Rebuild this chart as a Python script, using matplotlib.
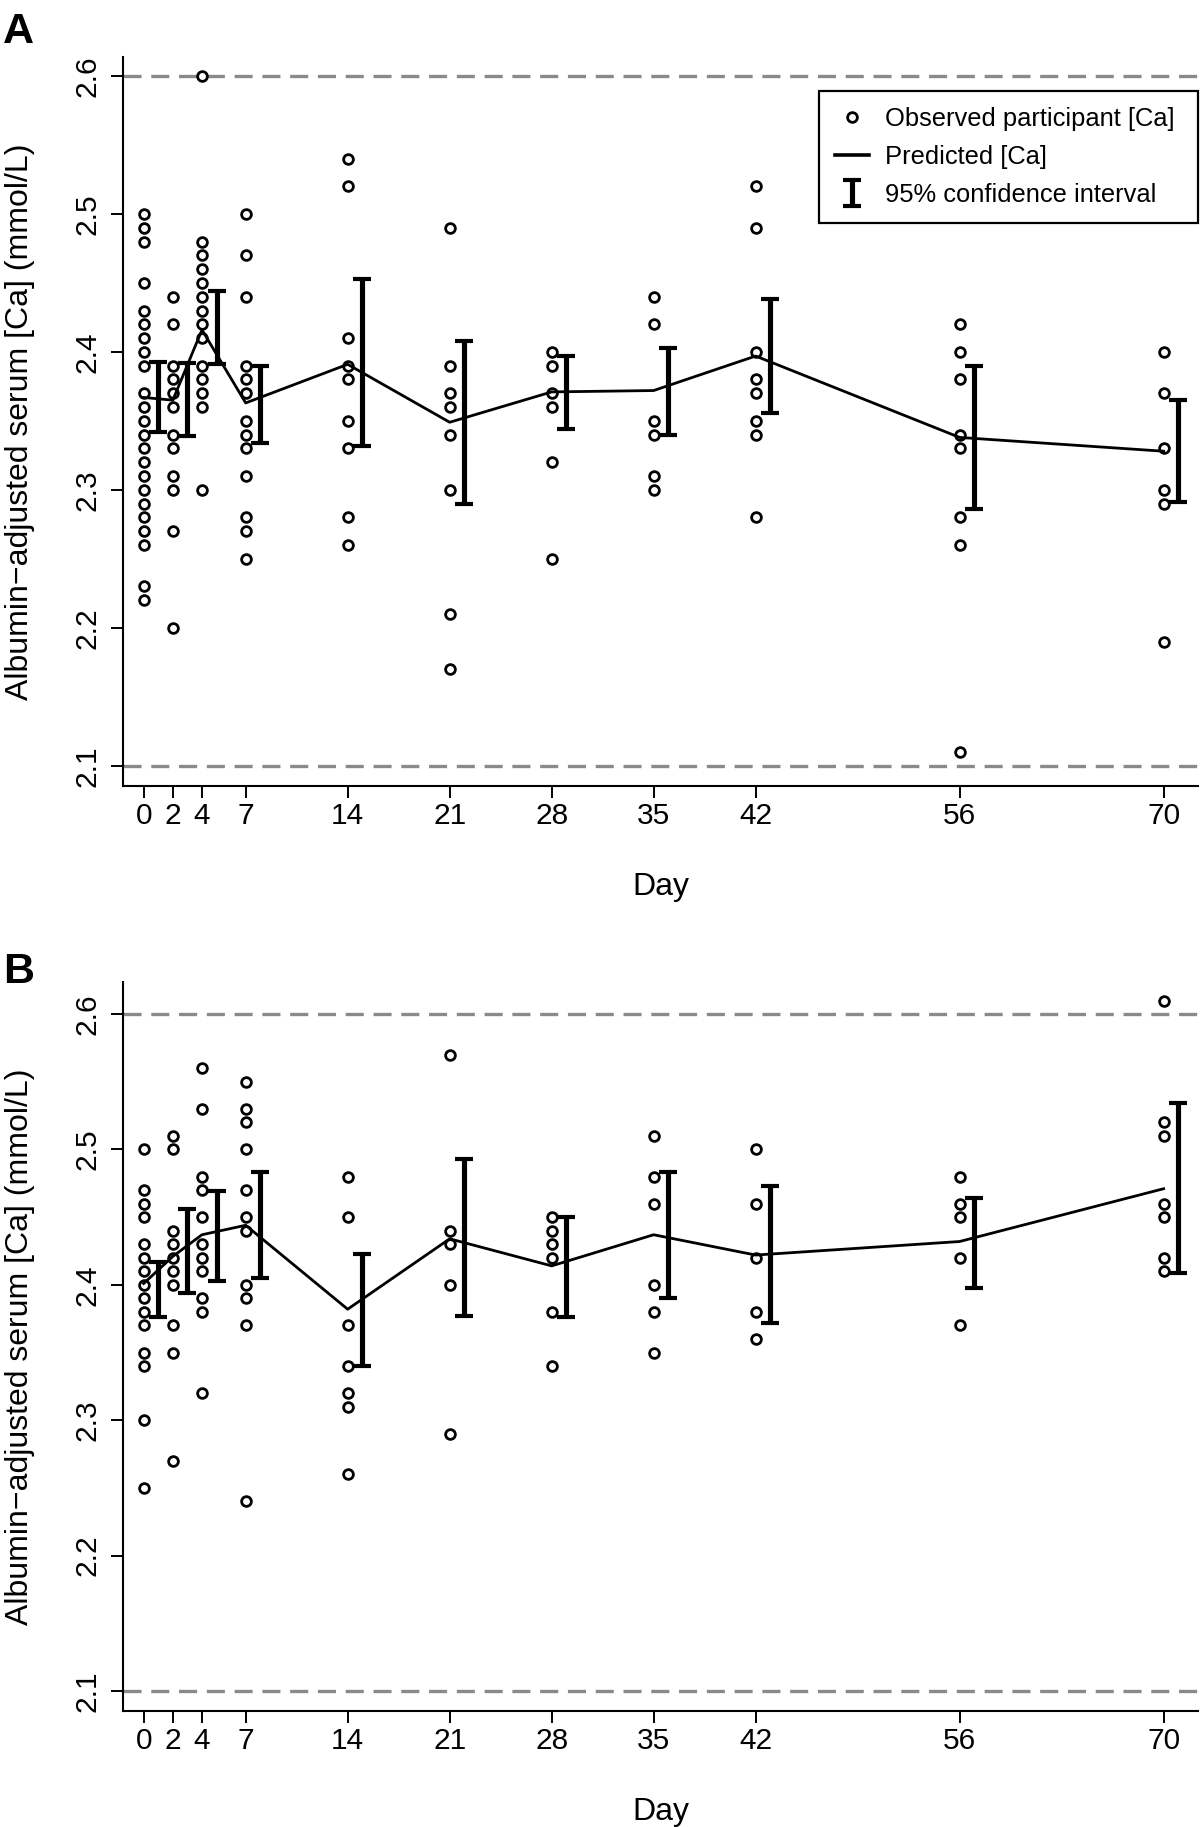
import matplotlib
matplotlib.use("Agg")
import matplotlib.pyplot as plt
import numpy as np

plt.rcParams['font.family'] = ['Liberation Sans', 'DejaVu Sans']
plt.rcParams['lines.scale_dashes'] = False

days = [0, 2, 4, 7, 14, 21, 28, 35, 42, 56, 70]
x_ticks = [0, 2, 4, 7, 14, 21, 28, 35, 42, 56, 70]
y_ticks = [2.1, 2.2, 2.3, 2.4, 2.5, 2.6]
ref_lines = [2.1, 2.6]

# Panel A observed values per day
obs_A = {
    0: [2.50, 2.49, 2.48, 2.45, 2.43, 2.42, 2.41, 2.40, 2.39, 2.37, 2.36, 2.35, 2.34,
        2.33, 2.32, 2.31, 2.30, 2.29, 2.28, 2.27, 2.26, 2.23, 2.22],
    2: [2.44, 2.42, 2.39, 2.38, 2.37, 2.36, 2.34, 2.33, 2.31, 2.30, 2.27, 2.20],
    4: [2.60, 2.48, 2.47, 2.46, 2.45, 2.44, 2.43, 2.42, 2.41, 2.39, 2.38, 2.37, 2.36, 2.30],
    7: [2.50, 2.47, 2.44, 2.39, 2.38, 2.37, 2.35, 2.34, 2.33, 2.31, 2.28, 2.27, 2.25],
    14: [2.54, 2.52, 2.41, 2.39, 2.38, 2.35, 2.33, 2.28, 2.26],
    21: [2.49, 2.39, 2.37, 2.36, 2.34, 2.30, 2.21, 2.17],
    28: [2.40, 2.39, 2.37, 2.36, 2.32, 2.25],
    35: [2.44, 2.42, 2.35, 2.34, 2.31, 2.30],
    42: [2.52, 2.49, 2.40, 2.38, 2.37, 2.35, 2.34, 2.28],
    56: [2.42, 2.40, 2.38, 2.34, 2.33, 2.28, 2.26, 2.11],
    70: [2.40, 2.37, 2.33, 2.30, 2.29, 2.19],
}
pred_A = [2.367, 2.365, 2.416, 2.363, 2.391, 2.349, 2.371, 2.372, 2.397, 2.338, 2.328]
ci_lo_A = [2.342, 2.339, 2.391, 2.334, 2.332, 2.290, 2.344, 2.340, 2.356, 2.286, 2.291]
ci_hi_A = [2.393, 2.392, 2.444, 2.390, 2.453, 2.408, 2.397, 2.403, 2.438, 2.390, 2.365]

# Panel B observed values per day
obs_B = {
    0: [2.50, 2.47, 2.46, 2.45, 2.43, 2.42, 2.41, 2.40, 2.39, 2.38, 2.37, 2.35, 2.34, 2.30, 2.25],
    2: [2.51, 2.50, 2.44, 2.43, 2.42, 2.41, 2.40, 2.37, 2.35, 2.27],
    4: [2.56, 2.53, 2.48, 2.47, 2.45, 2.43, 2.42, 2.41, 2.39, 2.38, 2.32],
    7: [2.55, 2.53, 2.52, 2.50, 2.47, 2.45, 2.44, 2.40, 2.39, 2.37, 2.24],
    14: [2.48, 2.45, 2.37, 2.34, 2.32, 2.31, 2.26],
    21: [2.57, 2.44, 2.43, 2.40, 2.29],
    28: [2.45, 2.44, 2.43, 2.42, 2.38, 2.34],
    35: [2.51, 2.48, 2.46, 2.40, 2.38, 2.35],
    42: [2.50, 2.46, 2.42, 2.38, 2.36],
    56: [2.48, 2.46, 2.45, 2.42, 2.37],
    70: [2.61, 2.52, 2.51, 2.46, 2.45, 2.42, 2.41],
}
pred_B = [2.401, 2.421, 2.437, 2.444, 2.382, 2.434, 2.414, 2.437, 2.422, 2.432, 2.471]
ci_lo_B = [2.376, 2.394, 2.403, 2.405, 2.340, 2.377, 2.376, 2.390, 2.372, 2.398, 2.409]
ci_hi_B = [2.417, 2.456, 2.469, 2.483, 2.423, 2.493, 2.450, 2.483, 2.473, 2.464, 2.534]

ci_offset = 1.0  # CI bars drawn one day to the right of the observation day

W, H = 1200, 1827
fig = plt.figure(figsize=(W / 100, H / 100), dpi=100)

TICK_FS = 21.5
LAB_FS = 23


def make_panel(rect, obs, pred, lo, hi, ylim, letter, letter_y, legend=False):
    ax = fig.add_axes(rect)
    for yv in ref_lines:
        ax.axhline(yv, color='#8a8a8a', lw=2.4, dashes=(13, 7), zorder=1)
    xs, ys = [], []
    for d in days:
        for v in obs[d]:
            xs.append(d)
            ys.append(v)
    ax.plot(xs, ys, linestyle='none', marker='o', ms=7.0, mfc='none', mec='black',
            mew=2.0, zorder=3, label='Observed participant [Ca]')
    ax.plot(days, pred, color='black', lw=2.0, zorder=2, label='Predicted [Ca]')
    lo = np.array(lo)
    hi = np.array(hi)
    mid = (lo + hi) / 2
    ax.errorbar(np.array(days) + ci_offset, mid, yerr=(hi - lo) / 2, fmt='none',
                ecolor='black', elinewidth=3.7, capsize=6.2, capthick=3.0, zorder=2,
                label='95% confidence interval')
    ax.set_xlim(-1.42, 72.36)
    ax.set_ylim(*ylim)
    ax.set_xticks(x_ticks)
    ax.set_xticklabels([str(t) for t in x_ticks])
    ax.set_yticks(y_ticks)
    ax.set_yticklabels([f"{t:.1f}" for t in y_ticks])
    for s in ['top', 'right']:
        ax.spines[s].set_visible(False)
    for s in ['left', 'bottom']:
        ax.spines[s].set_linewidth(1.5)
    ax.tick_params(axis='both', direction='out', length=8.6, width=1.4,
                   labelsize=TICK_FS, colors='black')
    ax.tick_params(axis='x', pad=3)
    ax.tick_params(axis='y', pad=7)
    for lab in ax.get_yticklabels():
        lab.set_rotation(90)
        lab.set_va('center')
    if legend:
        leg = ax.legend(loc='upper left', bbox_to_anchor=(0.6474, 0.0, 0.3526, 0.9534),
                        mode='expand', borderaxespad=0, fontsize=18.4, frameon=True,
                        fancybox=False, framealpha=1, edgecolor='black',
                        handlelength=1.35, handletextpad=0.6, labelspacing=0.55,
                        borderpad=0.62)
        leg.get_frame().set_linewidth(1.6)
        for ln in leg.get_lines():
            if ln.get_marker() in ('None', None, '') and ln.get_linestyle() == '-':
                ln.set_linewidth(2.6)
    # labels
    top_px = (1 - (rect[1] + rect[3])) * H
    bot_px = (1 - rect[1]) * H
    fig.text(20.5 / W, 1 - ((top_px + bot_px) / 2) / H,
             'Albumin\u2212adjusted serum [Ca] (mmol/L)', rotation=90,
             ha='center', va='center', fontsize=LAB_FS)
    fig.text((rect[0] + rect[2] / 2), 1 - (bot_px + 109) / H, 'Day',
             ha='center', va='baseline', fontsize=LAB_FS)
    fig.text(3 / W, 1 - letter_y / H, letter, fontsize=31, fontweight='bold',
             ha='left', va='baseline')
    return ax


rectA = [123 / W, 1 - 786 / H, 1075 / W, 729 / H]
rectB = [123 / W, 1 - 1711 / H, 1075 / W, 729 / H]
make_panel(rectA, obs_A, pred_A, ci_lo_A, ci_hi_A, (2.0853, 2.6138), 'A', 43, legend=True)
make_panel(rectB, obs_B, pred_B, ci_lo_B, ci_hi_B, (2.0852, 2.6237), 'B', 983)

fig.savefig('out.png', dpi=100, facecolor='white')
